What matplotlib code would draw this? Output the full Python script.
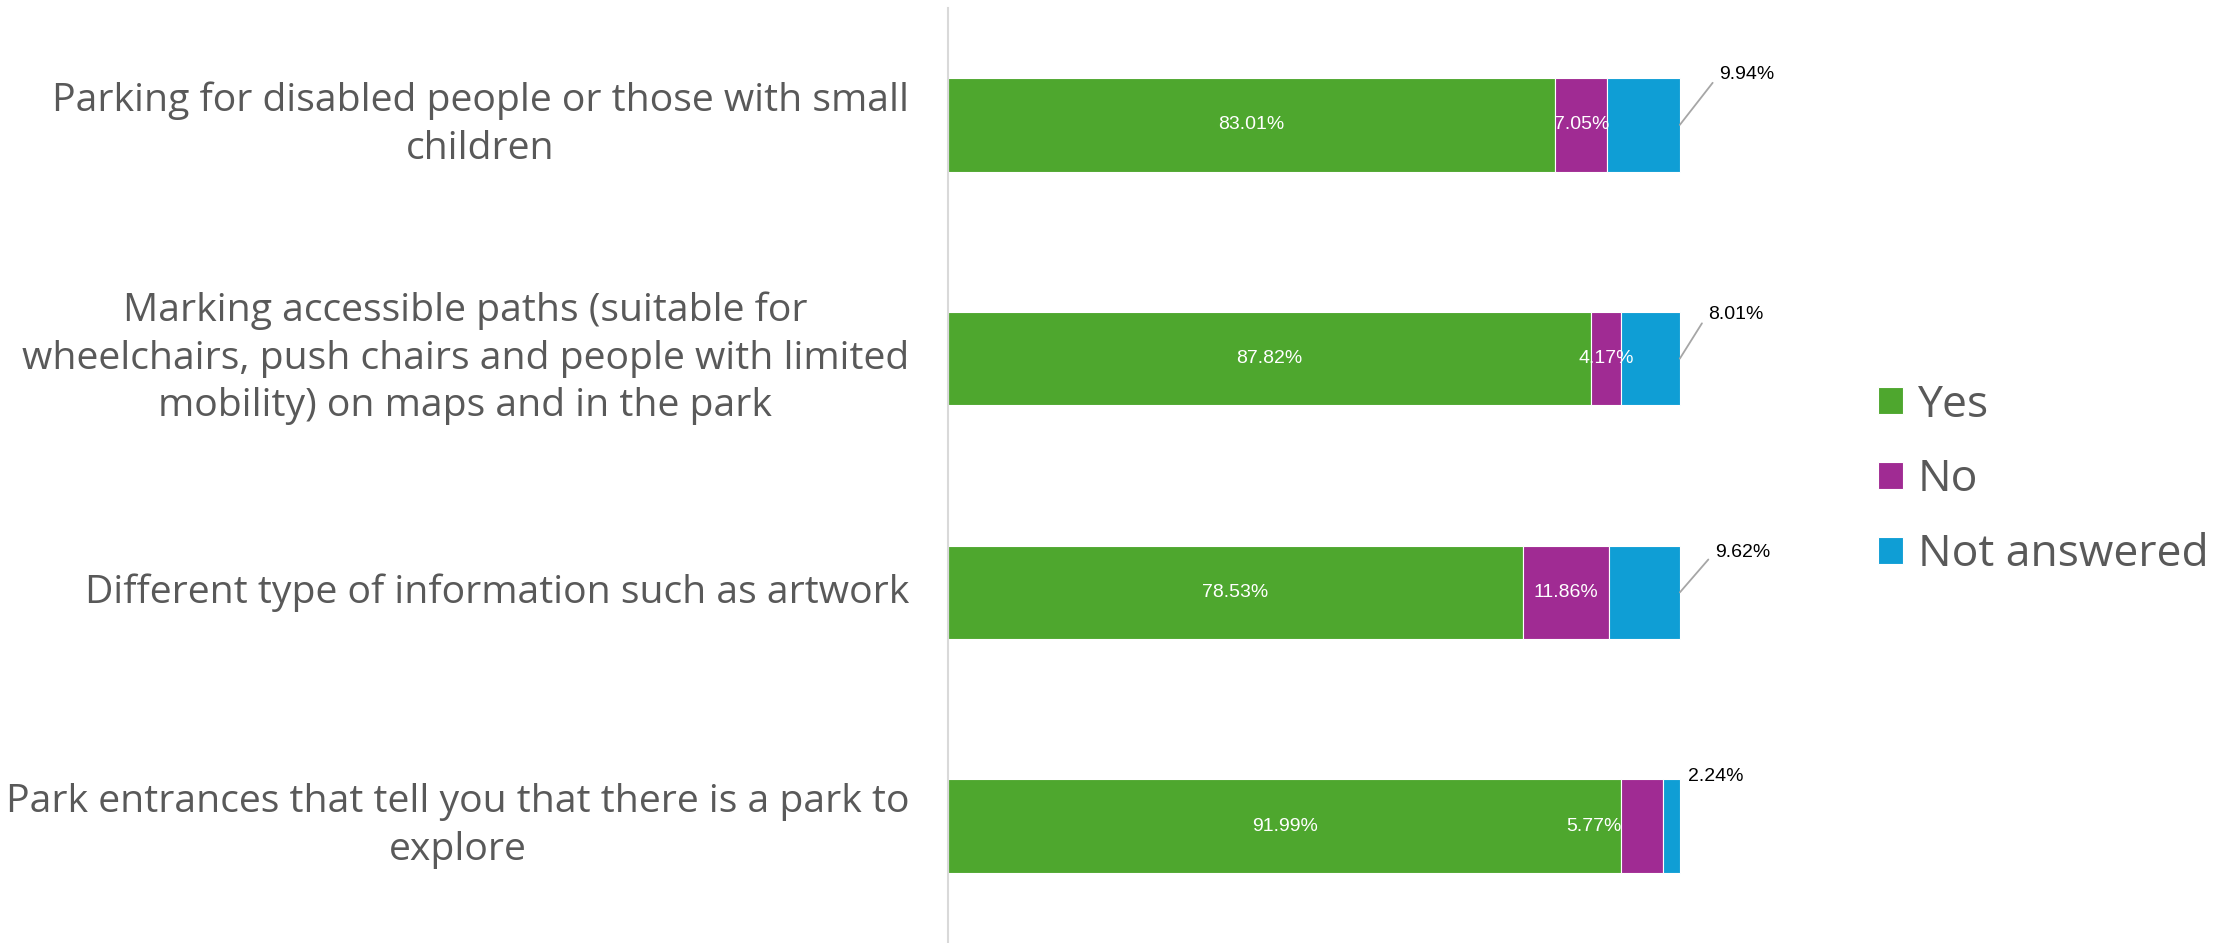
import matplotlib.pyplot as plt
import numpy as np

categories = [
    "Parking for disabled people or those with small\nchildren",
    "Marking accessible paths (suitable for\nwheelchairs, push chairs and people with limited\nmobility) on maps and in the park",
    "Different type of information such as artwork",
    "Park entrances that tell you that there is a park to\nexplore",
]
yes = [83.01, 87.82, 78.53, 91.99]
no = [7.05, 4.17, 11.86, 5.77]
not_answered = [9.94, 8.01, 9.62, 2.24]

c_yes = "#4EA72E"
c_no = "#A02B93"
c_na = "#0F9ED5"

plt.rcParams["font.family"] = ["Open Sans", "DejaVu Sans"]
small_font = ["Liberation Sans Narrow", "Liberation Sans"]

fig = plt.figure(figsize=(22.28, 9.43), dpi=100)
ax = fig.add_axes([948 / 2228, 0.0, (1682 - 948) / 2228, 1 - 8 / 943])

y = np.arange(len(categories))
h = 0.4
b1 = ax.barh(y, yes, height=h, color=c_yes, edgecolor="white", linewidth=0.8, label="Yes")
b2 = ax.barh(y, no, height=h, left=yes, color=c_no, edgecolor="white", linewidth=0.8, label="No")
left3 = np.array(yes) + np.array(no)
b3 = ax.barh(y, not_answered, height=h, left=left3, color=c_na, edgecolor="white", linewidth=0.8,
             label="Not answered")

ax.set_xlim(0, 100.3)
ax.set_ylim(3.5, -0.5)

# labels inside bars
for i in range(len(y)):
    ax.text(yes[i] / 2, y[i], f"{yes[i]:.2f}%", color="white", fontsize=14,
            ha="center", va="center", family=small_font)
    if i == 3:
        ax.text(yes[i], y[i], f"{no[i]:.2f}%", color="white", fontsize=14,
                ha="right", va="center", family=small_font)
    else:
        ax.text(yes[i] + no[i] / 2, y[i], f"{no[i]:.2f}%", color="white", fontsize=14,
                ha="center", va="center", family=small_font)

# not answered labels with leader lines
offsets = [(48, 36), (40, 32), (45, 29), (26, 2)]
for i in range(len(y)):
    x_end = left3[i] + not_answered[i]
    if i == 3:
        ax.annotate(f"{not_answered[i]:.2f}%", xy=(x_end, y[i] - h / 2), xytext=offsets[i],
                    textcoords="offset points", fontsize=14, color="black", ha="center", va="center",
                    family=small_font)
    else:
        ax.annotate(f"{not_answered[i]:.2f}%", xy=(x_end, y[i]), xytext=offsets[i],
                    textcoords="offset points", fontsize=14, color="black", ha="center", va="center",
                    family=small_font,
                    arrowprops=dict(arrowstyle="-", color="#a6a6a6", lw=1.3, relpos=(0, 0.5),
                                    shrinkA=4, shrinkB=0))

ax.set_yticks(y)
ax.set_yticklabels(categories, fontsize=28.2, color="#595959", multialignment="center",
                   linespacing=1.33, va="center")
ax.tick_params(axis="y", length=0, pad=28)
ax.set_xticks([])
for s in ["top", "right", "bottom"]:
    ax.spines[s].set_visible(False)
ax.spines["left"].set_color("#d9d9d9")
ax.spines["left"].set_linewidth(1.5)

leg = fig.legend(handles=[b1, b2, b3], loc="center left", bbox_to_anchor=(1838 / 2228, 1 - 480 / 943),
                 frameon=False, fontsize=32, handlelength=0.56, handleheight=0.56, handletextpad=0.33,
                 labelspacing=0.68)
for t in leg.get_texts():
    t.set_color("#595959")

fig.savefig("out.png", dpi=100)
